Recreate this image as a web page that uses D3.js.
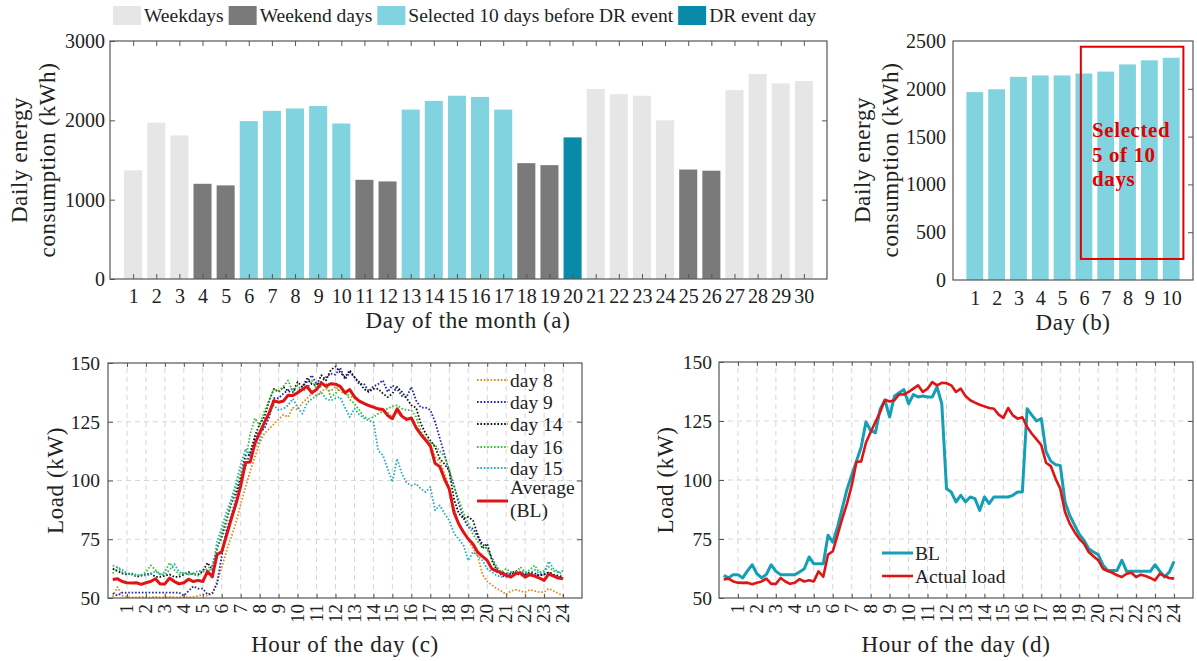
<!DOCTYPE html>
<html><head><meta charset="utf-8">
<script src="https://cdn.jsdelivr.net/npm/d3@7"></script>
<style>
body{margin:0;background:#fff;}
svg{display:block;font-family:"Liberation Serif","Times New Roman",serif;}
</style></head><body>
<svg id="chart" width="1197" height="661"></svg>
<script>
// ---------- DATA ----------
const days = d3.range(1, 31);
const dailyEnergy = [1370,1970,1810,1200,1180,1990,2120,2150,2180,1960,
                     1250,1230,2135,2245,2310,2295,2135,1460,1435,1785,
                     2395,2330,2310,2000,1380,1365,2380,2585,2465,2495];
const dayType = ['weekday','weekday','weekday','weekend','weekend','selected','selected','selected','selected','selected',
                 'weekend','weekend','selected','selected','selected','selected','selected','weekend','weekend','dr',
                 'weekday','weekday','weekday','weekday','weekend','weekend','weekday','weekday','weekday','weekday'];
const legendLabels = ['Weekdays','Weekend days','Selected 10 days before DR event','DR event day'];
const legendKeys = ['weekday','weekend','selected','dr'];

const sortedDays = d3.range(1, 11);
const sortedEnergy = [1965,1995,2125,2140,2140,2160,2180,2255,2298,2325];
const selectedBox = {x0: 5.86, x1: 10.56, y0: 220, y1: 2440};
const selectedText = ['Selected','5 of 10','days'];

const hours = d3.range(1, 97).map(i => i / 4);
const hourTicks = d3.range(1, 25);
const loadTicks = [50,75,100,125,150];

const day8 = [50.5,54.7,51.0,50.5,50.3,50.3,50.5,50.3, 50.3,50.5,50.3,50.3,50.5,50.3,50.3,50.5,
  50.3,50.5,50.8,51.5,51.0,52.0,57.0,63.0, 70.0,76.0,82.0,90.0,97.0,104.0,110.0,116.0,
  120.0,122.0,124.0,126.0,128.0,127.0,131.0,130.0, 133.0,135.0,137.0,136.0,138.0,139.0,138.0,140.0,
  138.0,137.0,136.0,135.0,134.0,133.0,132.0,131.0, 130.0,130.0,129.0,127.0,129.0,127.0,126.0,126.0,
  123.0,120.0,117.0,115.0,110.0,108.0,103.0,97.0, 88.0,82.0,78.0,75.0,71.0,68.0,60.0,57.0,
  55.5,54.0,53.0,51.5,53.0,53.5,53.0,52.5, 53.5,53.0,52.5,52.5,54.0,53.0,52.0,51.0];
const day9 = [52.0,51.0,52.3,52.3,52.3,52.3,52.3,52.3, 52.3,52.3,52.3,52.3,52.3,52.3,52.3,51.0,
  53.0,55.0,54.0,54.0,51.5,52.0,56.0,68.0, 79.0,85.0,92.0,100.0,106.0,112.0,118.0,121.0,
  122.0,127.0,135.0,135.0,137.0,138.5,139.0,137.7, 140.0,142.0,144.8,141.0,142.0,144.0,145.5,145.0,
  148.0,143.0,146.0,144.0,141.0,141.2,138.0,140.0, 141.0,142.6,137.7,140.5,139.0,136.0,135.5,139.8,
  134.0,131.0,131.0,130.0,125.0,118.0,111.0,104.0, 98.0,90.0,84.0,80.0,79.5,76.0,73.0,71.0,
  67.0,63.0,59.6,59.0,60.0,61.0,59.5,60.0, 60.5,59.5,60.0,60.0,61.0,59.5,59.0,58.5];
const day14 = [62.5,61.5,60.5,60.0,60.5,59.0,59.5,60.0, 60.5,59.0,59.0,59.5,60.0,59.0,59.0,60.0,
  61.0,60.0,60.0,61.4,65.0,62.0,71.0,76.0, 83.0,90.0,95.0,102.0,110.7,111.0,119.0,124.0,
  127.0,134.0,139.0,137.7,139.8,138.0,137.7,141.9, 139.8,143.3,141.0,140.5,144.8,142.6,147.0,148.5,
  146.0,144.0,146.9,144.0,141.9,139.0,137.7,139.0, 139.0,137.0,135.5,137.0,139.8,137.7,135.0,132.0,
  131.0,124.2,120.0,117.0,114.3,109.3,107.0,104.0, 92.0,86.0,83.8,84.5,83.0,77.0,71.0,73.1,
  66.0,62.0,61.0,60.5,60.4,61.5,61.0,60.0, 61.0,60.5,59.5,60.0,61.0,60.0,59.5,59.0];
const day16 = [60.4,63.0,61.0,60.5,60.0,60.0,59.5,61.0, 63.9,62.0,60.0,61.0,65.0,62.0,60.0,61.0,
  60.0,60.5,59.5,61.0,62.5,63.9,70.0,78.0, 84.0,90.8,97.0,103.0,108.0,120.0,126.5,123.5,
  129.5,134.0,139.0,138.0,140.0,142.6,137.7,140.5, 138.0,139.0,142.6,139.0,140.0,141.2,135.5,137.0,
  139.8,137.7,134.5,132.7,130.0,127.0,126.3,127.0, 128.4,129.5,130.6,131.5,132.0,130.6,130.0,129.9,
  127.0,121.0,118.0,116.4,115.0,112.5,110.0,105.0, 97.0,92.0,86.0,82.0,77.0,74.0,72.0,71.0,
  66.7,63.2,61.0,62.5,61.0,60.5,63.2,61.0, 62.0,63.9,61.0,61.5,63.2,61.5,61.0,60.0];
const day15 = [63.9,63.0,62.0,60.6,60.0,59.5,60.0,59.5, 60.0,61.5,60.0,60.0,62.0,64.5,61.0,60.5,
  60.0,60.5,61.5,61.5,62.0,62.0,73.8,80.0, 86.6,92.0,99.0,106.5,113.5,111.0,114.0,117.0,
  124.9,129.0,132.0,129.9,130.5,132.0,134.8,131.0, 128.4,133.0,134.8,136.0,137.5,134.8,134.0,135.0,
  135.5,131.0,127.0,130.6,128.0,126.5,125.5,124.9, 112.8,110.7,105.0,99.4,109.3,102.9,99.0,97.9,
  98.6,96.5,95.1,97.2,87.3,89.4,86.0,83.0, 77.5,75.0,72.4,66.0,69.6,68.0,66.0,62.5,
  61.0,59.5,59.0,60.0,61.0,60.0,61.5,61.0, 60.5,62.0,60.5,61.0,65.6,62.5,61.0,61.5];
const averageBL = [57.9,58.2,57.0,56.5,56.4,56.5,55.8,56.5, 57.0,58.2,56.0,56.0,58.5,57.0,56.0,56.5,
  58.0,57.0,57.5,57.0,61.3,59.0,68.4,69.8, 76.6,83.6,90.0,97.7,107.6,107.9,115.8,120.3,
  124.6,128.8,134.0,133.3,133.8,136.3,136.2,137.3, 138.7,140.1,137.3,138.7,141.5,140.1,141.2,141.0,
  140.1,137.3,138.7,135.6,133.8,132.8,131.9,131.2, 130.5,130.2,127.7,126.3,130.5,127.4,126.0,126.6,
  122.5,119.6,117.2,114.7,107.3,105.9,100.6,96.3, 86.4,81.5,78.0,75.1,73.0,69.5,67.7,66.0,
  62.4,61.4,60.7,59.6,58.9,60.3,60.7,58.9, 59.9,59.3,58.5,57.5,60.3,59.3,58.5,58.2];
const actualLoad = averageBL.slice();
const drBL = [59.6,58.5,59.9,59.9,58.5,61.5,64.1,60.3, 58.5,60.0,64.1,61.3,59.9,59.9,59.9,59.9,
  61.0,62.4,67.4,64.5,64.5,64.5,76.6,73.7, 80.0,88.0,96.0,102.0,108.0,114.0,124.6,121.0,
  120.0,130.0,133.8,126.7,135.5,137.0,138.3,132.3, 136.2,135.2,135.6,135.2,135.2,139.4,132.3,96.3,
  94.9,90.7,93.5,90.7,92.8,92.1,87.1,92.8, 90.0,92.8,92.8,92.8,92.8,93.5,94.9,94.9,
  130.2,127.5,125.0,126.0,112.0,108.0,106.5,106.2, 90.7,85.0,81.0,77.0,74.5,70.9,69.5,68.4,
  64.0,61.7,61.7,61.7,66.0,61.3,61.3,61.3, 61.3,61.3,61.3,64.1,61.3,58.9,61.0,65.5];

// ---------- STYLE ----------
const AXIS = '#555', TXT = '#222', GRID = '#d6d6d6';
const barColor = {weekday:'#e6e6e6', weekend:'#7a7a7a', selected:'#80d3df', dr:'#0a8aa9'};
const RED = '#e01414', BLC = '#159fb6';
const fmt = d3.format('d');

const svg = d3.select('#chart');
svg.append('rect').attr('width',1197).attr('height',661).attr('fill','#fff');

function styleAxis(g, fs){
  g.select('.domain').remove();
  g.selectAll('.tick line').attr('stroke', AXIS).attr('stroke-width',1);
  g.selectAll('.tick text').attr('fill', TXT).style('font-size', fs + 'px').style('font-family','"Liberation Serif",serif');
}
function box(x, y){
  svg.append('rect').attr('x', x.range()[0]).attr('y', y.range()[1])
    .attr('width', x.range()[1]-x.range()[0]).attr('height', y.range()[0]-y.range()[1])
    .attr('fill','none').attr('stroke', AXIS).attr('stroke-width',1.2);
}
function title(txt, x, y, rot){
  const t = svg.append('text').text(txt).attr('fill', TXT)
    .style('font-size','23px').style('letter-spacing','0.6px')
    .attr('text-anchor','middle');
  if (rot) t.attr('transform',`translate(${x},${y}) rotate(-90)`).attr('dy','0.35em');
  else t.attr('x',x).attr('y',y);
  return t;
}

// ---------- PANEL (a) ----------
const xa = d3.scaleLinear().domain([0,31]).range([110,827]);
const ya = d3.scaleLinear().domain([0,3000]).range([279,41]);
const bwa = (xa(1)-xa(0))*0.78;
svg.append('g').selectAll('rect').data(days).join('rect')
  .attr('x', d => xa(d)-bwa/2).attr('width', bwa)
  .attr('y', (d,i) => ya(dailyEnergy[i])).attr('height', (d,i) => ya(0)-ya(dailyEnergy[i]))
  .attr('fill', (d,i) => barColor[dayType[i]]);
styleAxis(svg.append('g').attr('transform','translate(0,279)')
  .call(d3.axisBottom(xa).tickValues(days).tickSizeInner(-5).tickSizeOuter(0).tickPadding(10).tickFormat(fmt)), 20);
styleAxis(svg.append('g').attr('transform','translate(0,41)')
  .call(d3.axisTop(xa).tickValues(days).tickSizeInner(-5).tickSizeOuter(0).tickFormat('')), 20);
styleAxis(svg.append('g').attr('transform','translate(110,0)')
  .call(d3.axisLeft(ya).tickValues([0,1000,2000,3000]).tickSizeInner(-5).tickSizeOuter(0).tickPadding(5).tickFormat(fmt)), 20);
styleAxis(svg.append('g').attr('transform','translate(827,0)')
  .call(d3.axisRight(ya).tickValues([1000,2000]).tickSizeInner(-5).tickSizeOuter(0).tickFormat('')), 20);
box(xa, ya);
title('Day of the month (a)', 468, 328);
title('Daily energy', 19, 160, true);
title('consumption (kWh)', 47, 160, true);

// legend on top
let lx = 113;
legendKeys.forEach((k, i) => {
  svg.append('rect').attr('x', lx).attr('y', 6).attr('width', 28).attr('height', 19).attr('fill', barColor[k]);
  const t = svg.append('text').attr('x', lx + 31).attr('y', 22).text(legendLabels[i])
    .attr('fill', TXT).style('font-size','19.5px');
  lx += 31 + t.node().getComputedTextLength() + 5;
});

// ---------- PANEL (b) ----------
const xb = d3.scaleLinear().domain([0,11]).range([953,1193]);
const yb = d3.scaleLinear().domain([0,2500]).range([280,41]);
const bwb = (xb(1)-xb(0))*0.77;
svg.append('g').selectAll('rect').data(sortedDays).join('rect')
  .attr('x', d => xb(d)-bwb/2).attr('width', bwb)
  .attr('y', (d,i) => yb(sortedEnergy[i])).attr('height', (d,i) => yb(0)-yb(sortedEnergy[i]))
  .attr('fill', barColor.selected);
styleAxis(svg.append('g').attr('transform','translate(0,280)')
  .call(d3.axisBottom(xb).tickValues(sortedDays).tickSize(0).tickPadding(11).tickFormat(fmt)), 20);
styleAxis(svg.append('g').attr('transform','translate(953,0)')
  .call(d3.axisLeft(yb).tickValues([0,500,1000,1500,2000,2500]).tickSize(0).tickPadding(7).tickFormat(fmt)), 20);
styleAxis(svg.append('g').attr('transform','translate(1193,0)')
  .call(d3.axisRight(yb).tickValues([500,1000,1500,2000]).tickSizeInner(-5).tickSizeOuter(0).tickFormat('')), 20);
box(xb, yb);
svg.append('rect').attr('x', xb(selectedBox.x0)).attr('y', yb(selectedBox.y1))
  .attr('width', xb(selectedBox.x1)-xb(selectedBox.x0)).attr('height', yb(selectedBox.y0)-yb(selectedBox.y1))
  .attr('fill','none').attr('stroke','#e00000').attr('stroke-width',2);
selectedText.forEach((s, i) => {
  svg.append('text').attr('x', 1092).attr('y', 137 + i*24.5).text(s)
    .attr('fill','#e00000').style('font-weight','bold').style('font-size','21px').style('letter-spacing','0.6px');
});
title('Day (b)', 1073, 330);
title('Daily energy', 862, 160, true);
title('consumption (kWh)', 890, 160, true);

// ---------- PANELS (c),(d) ----------
function linePanel(id, xr, yr, series, legend, legendX, labelEndX, ylabX, xtitle){
  const x = d3.scaleLinear().domain([0,25]).range(xr);
  const y = d3.scaleLinear().domain([50,150]).range(yr);
  const g = svg.append('g');
  g.selectAll('.vg').data(hourTicks).join('line')
    .attr('x1', d => x(d)).attr('x2', d => x(d)).attr('y1', yr[0]).attr('y2', yr[1])
    .attr('stroke', GRID).attr('stroke-dasharray','5,4');
  g.selectAll('.hg').data([75,100,125]).join('line')
    .attr('y1', d => y(d)).attr('y2', d => y(d)).attr('x1', xr[0]).attr('x2', xr[1])
    .attr('stroke', GRID).attr('stroke-dasharray','5,4');
  svg.append('clipPath').attr('id','clip'+id).append('rect')
    .attr('x', xr[0]).attr('y', yr[1]).attr('width', xr[1]-xr[0]).attr('height', yr[0]-yr[1]);
  const line = d3.line().x((d,i) => x(hours[i])).y(d => y(d));
  const lg = svg.append('g').attr('clip-path', `url(#clip${id})`);
  series.forEach(s => {
    lg.append('path').attr('d', line(s.data)).attr('fill','none').attr('stroke', s.color)
      .attr('stroke-width', s.w).attr('stroke-dasharray', s.dash || null).attr('stroke-linejoin','round');
  });
  styleAxis(svg.append('g').attr('transform',`translate(0,${yr[0]})`)
    .call(d3.axisBottom(x).tickValues(hourTicks).tickSizeInner(-4).tickSizeOuter(0).tickFormat('')), 19);
  styleAxis(svg.append('g').attr('transform',`translate(0,${yr[1]})`)
    .call(d3.axisTop(x).tickValues(hourTicks).tickSizeInner(-4).tickSizeOuter(0).tickFormat('')), 19);
  styleAxis(svg.append('g').attr('transform',`translate(${xr[0]},0)`)
    .call(d3.axisLeft(y).tickValues(loadTicks).tickSizeInner(-5).tickSizeOuter(0).tickPadding(xr[0]-labelEndX).tickFormat(fmt)), 19.5);
  styleAxis(svg.append('g').attr('transform',`translate(${xr[1]},0)`)
    .call(d3.axisRight(y).tickValues([75,100,125]).tickSizeInner(-5).tickSizeOuter(0).tickFormat('')), 19);
  svg.append('g').selectAll('text').data(hourTicks).join('text')
    .attr('transform', d => `translate(${x(d)},${yr[0]+6}) rotate(-90)`)
    .attr('dy','0.32em').attr('text-anchor','end').text(d => d)
    .attr('fill', TXT).style('font-size','19px');
  box(x, y);
  title('Load (kW)', ylabX, (yr[0]+yr[1])/2, true);
  title(xtitle, (xr[0]+xr[1])/2, 652);
  legend.forEach(L => {
    svg.append('line').attr('x1', legendX).attr('x2', legendX+31).attr('y1', L.ly).attr('y2', L.ly)
      .attr('stroke', L.s.color).attr('stroke-width', L.s.w).attr('stroke-dasharray', L.s.dash || null);
    L.lines.forEach((t, j) => {
      svg.append('text').attr('x', legendX+33).attr('y', L.ty + j*23).text(t)
        .attr('fill', TXT).style('font-size','19.5px');
    });
  });
}

const dot = '1.6,1.8';
const sc = [
  {data: day8, color:'#e08c1a', w:1.8, dash:dot},
  {data: day9, color:'#2222b4', w:1.8, dash:dot},
  {data: day14, color:'#111', w:1.8, dash:dot},
  {data: day16, color:'#36c036', w:1.8, dash:dot},
  {data: day15, color:'#25adbf', w:1.8, dash:dot},
  {data: averageBL, color: RED, w:3}
];
const legC = [
  {s: sc[0], ly: 380, ty: 387, lines:['day 8']},
  {s: sc[1], ly: 402, ty: 409, lines:['day 9']},
  {s: sc[2], ly: 424, ty: 431, lines:['day 14']},
  {s: sc[3], ly: 447, ty: 454, lines:['day 16']},
  {s: sc[4], ly: 468, ty: 475, lines:['day 15']},
  {s: sc[5], ly: 501, ty: 494, lines:['Average','(BL)']}
];
linePanel('c', [108,582], [598,363], sc, legC, 477, 100, 55, 'Hour of the day (c)');

const sd = [
  {data: drBL, color: BLC, w:3},
  {data: actualLoad, color: RED, w:2.6}
];
const legD = [
  {s: sd[0], ly: 553, ty: 560, lines:['BL']},
  {s: sd[1], ly: 576, ty: 583, lines:['Actual load']}
];
linePanel('d', [719,1193], [598,362], sd, legD, 882, 712, 665, 'Hour of the day (d)');
</script>
</body></html>
